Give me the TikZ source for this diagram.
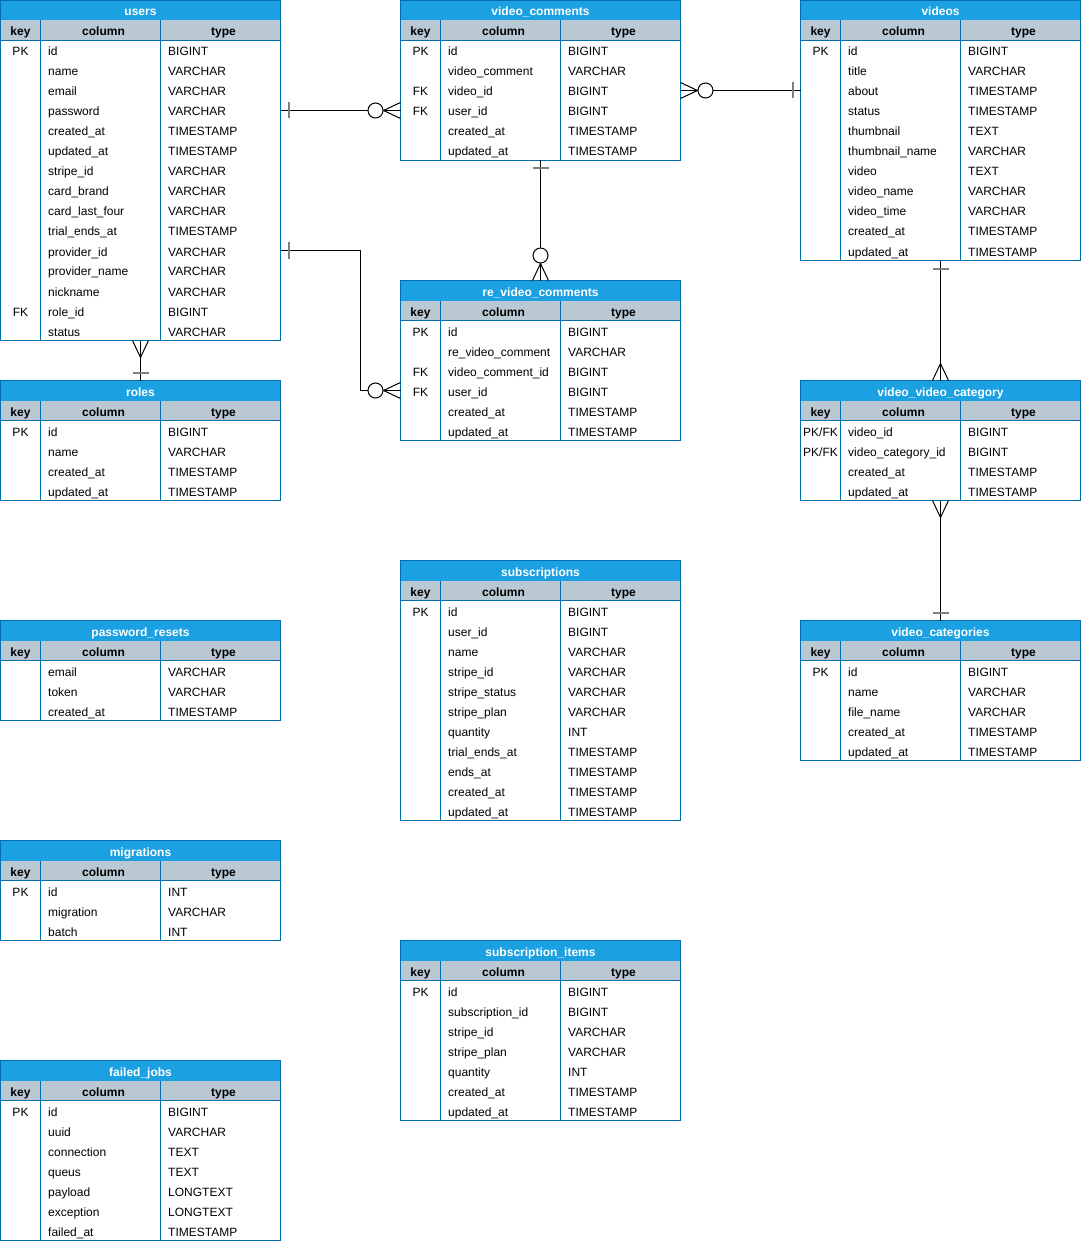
\documentclass[tikz,border=0pt]{standalone}
\usepackage{fontspec}
\setmainfont{Liberation Sans}
\usetikzlibrary{positioning,calc}
\definecolor{TableBlue}{HTML}{1BA1E2}
\definecolor{TableEdge}{HTML}{006EAF}
\definecolor{HeadGray}{HTML}{BAC8D3}
\definecolor{TickGray}{HTML}{808080}
\tikzset{
    % Table parts
    tableframe/.style={
        rectangle,
        draw=TableEdge,
        fill=white,
        minimum width=280pt,
        inner sep=0pt,
        outer sep=0pt
    },
    titlebar/.style={
        rectangle,
        fill=TableBlue,
        text=white,
        minimum width=280pt,
        minimum height=20pt,
        inner sep=0pt,
        outer sep=0pt,
        text height=12pt,
        text depth=1pt,
        font=\fontsize{12}{14}\selectfont\bfseries
    },
    headbar/.style={
        rectangle,
        fill=HeadGray,
        minimum width=280pt,
        minimum height=20pt,
        inner sep=0pt,
        outer sep=0pt
    },
    rowbox/.style={
        rectangle,
        minimum width=280pt,
        minimum height=20pt,
        inner sep=0pt,
        outer sep=0pt
    },
    celltext/.style={
        inner sep=0pt,
        text height=12pt,
        text depth=1pt,
        font=\fontsize{12}{14}\selectfont
    },
    headtext/.style={
        celltext,
        font=\fontsize{12}{14}\selectfont\bfseries
    },
    gridline/.style={
        draw=TableEdge,
        line width=1pt
    },
    % Relations
    conn/.style={
        draw=black,
        line width=1pt
    },
    tickline/.style={
        draw=TickGray,
        line width=2pt
    }
}
% #1 name, #2 top left corner, #3 title, #4 number of rows, #5 key/column/type list
\newcommand{\erdtable}[5]{%
    \node[tableframe, minimum height={(#4+2)*20pt}, anchor=north west] (#1) at (#2) {};
    \node[titlebar, anchor=north west] (#1-title) at (#1.north west) {#3};
    \node[headbar, anchor=north west] (#1-head) at (#1-title.south west) {};
    \node[headtext] at ($(#1-head.west)+(20,0)$) {key};
    \node[headtext] at ($(#1-head.west)+(103,0)$) {column};
    \node[headtext] at ($(#1-head.west)+(223,0)$) {type};
    \foreach \rkey/\rcol/\rtyp [count=\i] in {#5} {
        \node[rowbox, anchor=north west] (#1-\i) at ($(#1-head.south west)+(0,{(\i-1)*20})$) {};
        \node[celltext] at ($(#1-\i.west)+(20,0)$) {\rkey};
        \node[celltext, anchor=west] at ($(#1-\i.west)+(47.5,0)$) {\rcol};
        \node[celltext, anchor=west] at ($(#1-\i.west)+(167.5,0)$) {\rtyp};
    }
    \draw[gridline] (#1-head.south west) -- (#1-head.south east);
    \draw[gridline] ($(#1-head.north west)+(40,0)$) -- ($(#1.south west)+(40,0)$);
    \draw[gridline] ($(#1-head.north west)+(160,0)$) -- ($(#1.south west)+(160,0)$);
    \draw[gridline] (#1.north west) rectangle (#1.south east);
}
% relation ends: #1 end at the table, #2 a point along the line
\newcommand{\onemark}[2]{%
    \coordinate (tk) at ($(#1)!8pt!(#2)$);
    \draw[tickline] ($(tk)!8pt!90:(#2)$) -- ($(tk)!8pt!-90:(#2)$);
}
\newcommand{\manymark}[2]{%
    \coordinate (cf) at ($(#1)!17pt!(#2)$);
    \draw[conn] ($(#1)!8pt!90:(#2)$) -- (cf) -- ($(#1)!8pt!-90:(#2)$);
}
\newcommand{\zeromanymark}[2]{%
    \manymark{#1}{#2}
    \draw[conn, fill=white] ($(#1)!25pt!(#2)$) circle[radius=7.5pt];
}

\begin{document}
\begin{tikzpicture}[x=1pt, y=-1pt]
    \useasboundingbox (0,0) rectangle (1081,1241);

    % Left column
    \erdtable{users}{0.5,0.5}{users}{15}{PK/id/BIGINT, /name/VARCHAR, /email/VARCHAR, /password/VARCHAR, /created\_at/TIMESTAMP, /updated\_at/TIMESTAMP, /stripe\_id/VARCHAR, /card\_brand/VARCHAR, /card\_last\_four/VARCHAR, /trial\_ends\_at/TIMESTAMP, /provider\_id/VARCHAR, /provider\_name/VARCHAR, /nickname/VARCHAR, FK/role\_id/BIGINT, /status/VARCHAR}
    \erdtable{roles}{0.5,380.5}{roles}{4}{PK/id/BIGINT, /name/VARCHAR, /created\_at/TIMESTAMP, /updated\_at/TIMESTAMP}
    \erdtable{pwresets}{0.5,620.5}{password\_resets}{3}{/email/VARCHAR, /token/VARCHAR, /created\_at/TIMESTAMP}
    \erdtable{migrations}{0.5,840.5}{migrations}{3}{PK/id/INT, /migration/VARCHAR, /batch/INT}
    \erdtable{failedjobs}{0.5,1060.5}{failed\_jobs}{7}{PK/id/BIGINT, /uuid/VARCHAR, /connection/TEXT, /queus/TEXT, /payload/LONGTEXT, /exception/LONGTEXT, /failed\_at/TIMESTAMP}

    % Middle column
    \erdtable{vcomments}{400.5,0.5}{video\_comments}{6}{PK/id/BIGINT, /video\_comment/VARCHAR, FK/video\_id/BIGINT, FK/user\_id/BIGINT, /created\_at/TIMESTAMP, /updated\_at/TIMESTAMP}
    \erdtable{revcomments}{400.5,280.5}{re\_video\_comments}{6}{PK/id/BIGINT, /re\_video\_comment/VARCHAR, FK/video\_comment\_id/BIGINT, FK/user\_id/BIGINT, /created\_at/TIMESTAMP, /updated\_at/TIMESTAMP}
    \erdtable{subs}{400.5,560.5}{subscriptions}{11}{PK/id/BIGINT, /user\_id/BIGINT, /name/VARCHAR, /stripe\_id/VARCHAR, /stripe\_status/VARCHAR, /stripe\_plan/VARCHAR, /quantity/INT, /trial\_ends\_at/TIMESTAMP, /ends\_at/TIMESTAMP, /created\_at/TIMESTAMP, /updated\_at/TIMESTAMP}
    \erdtable{subitems}{400.5,940.5}{subscription\_items}{7}{PK/id/BIGINT, /subscription\_id/BIGINT, /stripe\_id/VARCHAR, /stripe\_plan/VARCHAR, /quantity/INT, /created\_at/TIMESTAMP, /updated\_at/TIMESTAMP}

    % Right column
    \erdtable{videos}{800.5,0.5}{videos}{11}{PK/id/BIGINT, /title/VARCHAR, /about/TIMESTAMP, /status/TIMESTAMP, /thumbnail/TEXT, /thumbnail\_name/VARCHAR, /video/TEXT, /video\_name/VARCHAR, /video\_time/VARCHAR, /created\_at/TIMESTAMP, /updated\_at/TIMESTAMP}
    \erdtable{vvcategory}{800.5,380.5}{video\_video\_category}{4}{{PK/FK}/video\_id/BIGINT, {PK/FK}/video\_category\_id/BIGINT, /created\_at/TIMESTAMP, /updated\_at/TIMESTAMP}
    \erdtable{vcategories}{800.5,620.5}{video\_categories}{5}{PK/id/BIGINT, /name/VARCHAR, /file\_name/VARCHAR, /created\_at/TIMESTAMP, /updated\_at/TIMESTAMP}

    % Relations
    \draw[conn] (users-4.east) -- (vcomments-4.west);
    \onemark{users-4.east}{vcomments-4.west}
    \zeromanymark{vcomments-4.west}{users-4.east}

    \draw[conn] (vcomments-3.east) -- (videos-3.west);
    \zeromanymark{vcomments-3.east}{videos-3.west}
    \onemark{videos-3.west}{vcomments-3.east}

    \draw[conn] (vcomments.south) -- (revcomments.north);
    \onemark{vcomments.south}{revcomments.north}
    \zeromanymark{revcomments.north}{vcomments.south}

    \coordinate (bendA) at ($(users-11.east)+(80,0)$);
    \coordinate (bendB) at (bendA |- revcomments-4.west);
    \draw[conn] (users-11.east) -- (bendA) -- (bendB) -- (revcomments-4.west);
    \onemark{users-11.east}{bendA}
    \zeromanymark{revcomments-4.west}{bendB}

    \draw[conn] (users.south) -- (roles.north);
    \manymark{users.south}{roles.north}
    \onemark{roles.north}{users.south}

    \draw[conn] (videos.south) -- (vvcategory.north);
    \onemark{videos.south}{vvcategory.north}
    \manymark{vvcategory.north}{videos.south}

    \draw[conn] (vvcategory.south) -- (vcategories.north);
    \manymark{vvcategory.south}{vcategories.north}
    \onemark{vcategories.north}{vvcategory.south}
\end{tikzpicture}
\end{document}
